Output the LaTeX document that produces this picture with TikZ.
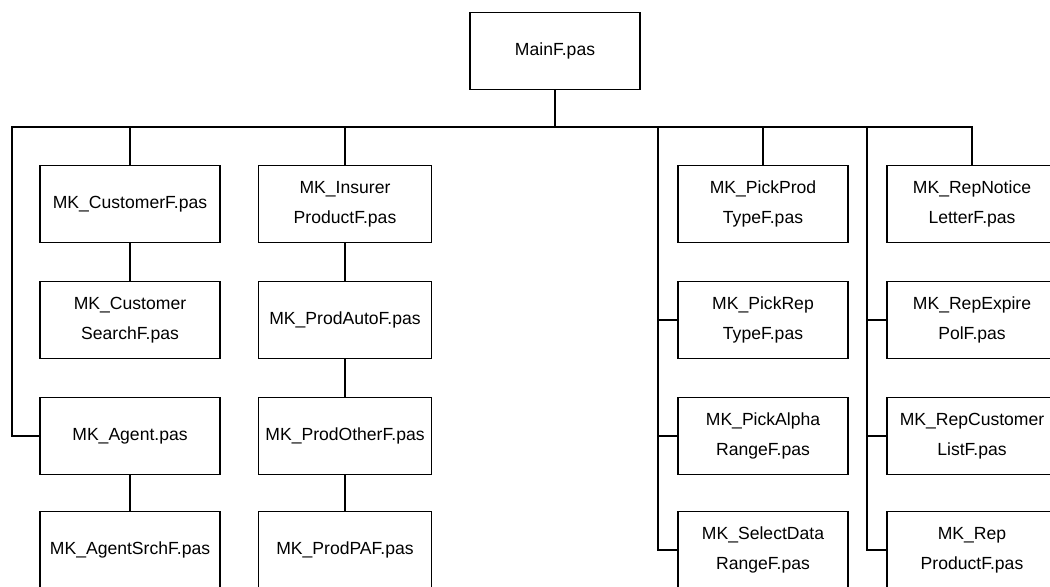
\documentclass[tikz,border=0pt]{standalone}
\usepackage{fontspec}
\setmainfont{Liberation Sans}
\usepackage{tikz}

\begin{document}
\begin{tikzpicture}[x=0.02cm,y=-0.02cm,line width=0.7pt,
	box/.style={draw,rectangle,align=center,inner sep=0pt,minimum width=3.4cm,minimum height=1.54cm,font=\fontsize{10}{17}\selectfont},
	col1/.style={box,minimum width=3.6cm},
	col2/.style={box,minimum width=3.46cm}]
	\useasboundingbox (0,0) rectangle (1050,586);
	\clip (0,0) rectangle (1050,586);
	\node[box] (main) at (555,51) {MainF.pas};
	\node[col1] (cust) at (130,204) {MK\_CustomerF.pas};
	\node[col1] (custsrch) at (130,320) {MK\_Customer\\SearchF.pas};
	\node[col1] (agent) at (130,436) {MK\_Agent.pas};
	\node[col1] (agentsrch) at (130,550) {MK\_AgentSrchF.pas};
	\node[col2] (insurer) at (345,204) {MK\_Insurer\\ProductF.pas};
	\node[col2] (prodauto) at (345,320) {MK\_ProdAutoF.pas};
	\node[col2] (prodother) at (345,436) {MK\_ProdOtherF.pas};
	\node[col2] (prodpaf) at (345,550) {MK\_ProdPAF.pas};
	\node[box] (pickprod) at (763,204) {MK\_PickProd\\TypeF.pas};
	\node[box] (pickrep) at (763,320) {MK\_PickRep\\TypeF.pas};
	\node[box] (pickalpha) at (763,436) {MK\_PickAlpha\\RangeF.pas};
	\node[box] (selectdata) at (763,550) {MK\_SelectData\\RangeF.pas};
	\node[box] (notice) at (972,204) {MK\_RepNotice\\LetterF.pas};
	\node[box] (expire) at (972,320) {MK\_RepExpire\\PolF.pas};
	\node[box] (replist) at (972,436) {MK\_RepCustomer\\ListF.pas};
	\node[box] (repprod) at (972,550) {MK\_Rep\\ProductF.pas};
	\coordinate (bus) at (12,127);
	\coordinate (side3) at (658,127);
	\coordinate (side4) at (867,127);
	\draw (main.south) -- (main.south |- bus);
	\draw (agent.west) -| (bus) -- (notice.north |- bus) -- (notice.north);
	\foreach \n in {cust,insurer,pickprod}
		\draw (\n.north |- bus) -- (\n.north);
	\foreach \a/\b in {cust/custsrch,agent/agentsrch,insurer/prodauto,prodauto/prodother,prodother/prodpaf}
		\draw (\a) -- (\b);
	\draw (side3) |- (selectdata.west);
	\draw (side4) |- (repprod.west);
	\foreach \n in {pickrep,pickalpha}
		\draw (side3 |- \n.west) -- (\n.west);
	\foreach \n in {expire,replist}
		\draw (side4 |- \n.west) -- (\n.west);
\end{tikzpicture}
\end{document}
